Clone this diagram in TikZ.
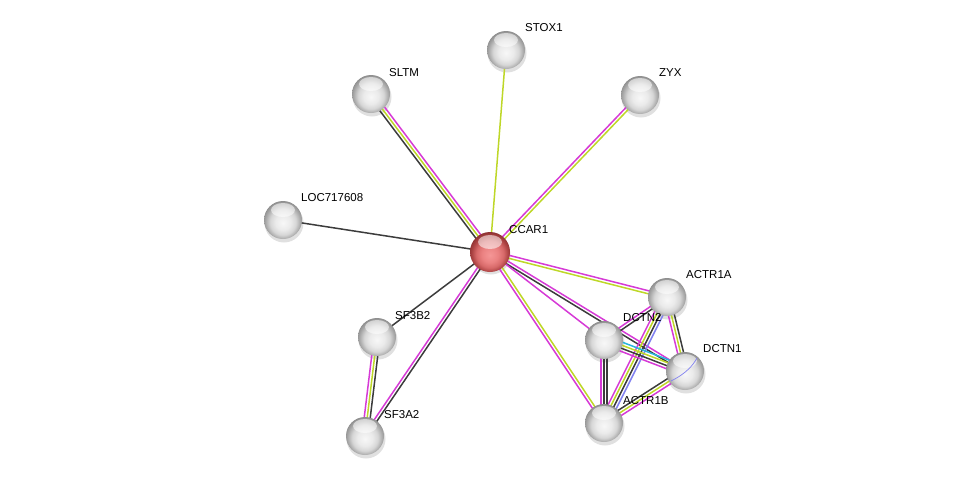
\documentclass[tikz,border=0pt]{standalone}
\usepackage{fontspec}
\setmainfont{Liberation Sans}
\usetikzlibrary{calc,backgrounds}
\definecolor{emag}{RGB}{214,58,214}
\definecolor{eyel}{RGB}{190,215,40}
\definecolor{eblk}{RGB}{60,60,60}
\definecolor{ecyn}{RGB}{40,180,220}
\definecolor{eblu}{RGB}{130,130,240}
\pgfdeclareradialshading{gsphere}{\pgfpoint{0bp}{-4bp}}{%
  color(0bp)=(white!97!black); color(10bp)=(white!92!black);
  color(17bp)=(white!84!black); color(23bp)=(white!66!black);
  color(27bp)=(white!55!black); color(50bp)=(white!55!black)}
\pgfdeclareradialshading{rsphere}{\pgfpoint{0bp}{-4bp}}{%
  color(0bp)=(rgb,255:red,245;green,150;blue,150); color(10bp)=(rgb,255:red,235;green,130;blue,130);
  color(17bp)=(rgb,255:red,215;green,105;blue,105); color(23bp)=(rgb,255:red,170;green,65;blue,65);
  color(27bp)=(rgb,255:red,140;green,50;blue,50); color(50bp)=(rgb,255:red,140;green,50;blue,50)}
\pgfdeclareradialshading{shinegrad}{\pgfpoint{0bp}{0bp}}{%
  color(0bp)=(white); color(15bp)=(white); color(25bp)=(white); color(50bp)=(white)}
\tikzset{
  prot/.style={circle, minimum size=38pt, inner sep=0pt, shading=gsphere},
  hub/.style={circle, minimum size=40pt, inner sep=0pt, shading=rsphere},
  shine/.style={white, opacity=0.55},
  lbl/.style={anchor=west, inner sep=0pt, font=\fontsize{11.5}{13}\selectfont},
  eline/.style={line width=1.5pt}
}
\newcommand\multiedge[3]{%
  \foreach \c [count=\i] in {#3} {\xdef\nnedge{\i}}%
  \foreach \c [count=\i] in {#3} {%
    \pgfmathsetmacro\offedge{(\i-(\nnedge+1)/2)*3}%
    \draw[eline, color=\c] ($(#1)!\offedge pt!90:(#2)$) -- ($(#2)!\offedge pt!-90:(#1)$);
  }%
}
\newcommand\highlight[1]{%
  \fill[shine] ($(#1)+(0,-10)$) ellipse (12pt and 7pt);
}
\begin{document}
\begin{tikzpicture}[x=1pt,y=-1pt]
\useasboundingbox (0,0) rectangle (976,482);
% nodes
\node[prot] (STOX1) at (506,50) {};
\node[prot] (SLTM) at (371,94) {};
\node[prot] (ZYX) at (640,95) {};
\node[prot] (LOC) at (283,220) {};
\node[hub] (CCAR1) at (490,252) {};
\node[prot] (ACTR1A) at (667,297) {};
\node[prot] (DCTN2) at (604,340) {};
\node[prot] (DCTN1) at (685,371) {};
\node[prot] (SF3B2) at (377,337) {};
\node[prot] (SF3A2) at (365,436) {};
\node[prot] (ACTR1B) at (604,423) {};
\foreach \n in {STOX1,SLTM,ZYX,LOC,CCAR1,ACTR1A,DCTN2,DCTN1,SF3B2,SF3A2,ACTR1B} {\highlight{\n}}
% DCTN1 inner blue curve
\draw[eblu, line width=0.7pt] ($(DCTN1)+(-14,10)$) .. controls ($(DCTN1)+(2,2)$) and ($(DCTN1)+(8,-6)$) .. ($(DCTN1)+(12,-13)$);
% edges
\begin{scope}[on background layer]
\foreach \n in {STOX1,SLTM,ZYX,LOC,CCAR1,ACTR1A,DCTN2,DCTN1,SF3B2,SF3A2,ACTR1B} {\fill[black, opacity=0.12] ($(\n)+(1,3)$) circle (19.5pt);}
\multiedge{CCAR1}{STOX1}{eyel}
\multiedge{CCAR1}{SLTM}{emag,eyel,eblk}
\multiedge{CCAR1}{ZYX}{eyel,emag}
\multiedge{CCAR1}{LOC}{eblk}
\multiedge{CCAR1}{SF3B2}{eblk}
\multiedge{CCAR1}{SF3A2}{emag,eblk}
\multiedge{CCAR1}{ACTR1A}{eyel,emag}
\multiedge{CCAR1}{DCTN1}{eblk,emag}
\multiedge{CCAR1}{DCTN2}{emag}
\multiedge{CCAR1}{ACTR1B}{emag,eyel}
\multiedge{SF3B2}{SF3A2}{emag,eyel,eblk}
\multiedge{ACTR1A}{DCTN1}{emag,eyel,eblk}
\multiedge{ACTR1A}{DCTN2}{emag,eblk}
\multiedge{ACTR1A}{ACTR1B}{emag,eyel,eblk,eblu}
\multiedge{DCTN2}{DCTN1}{emag,eblk,eyel,ecyn}
\multiedge{DCTN2}{ACTR1B}{emag,eblk,eblk}
\multiedge{DCTN1}{ACTR1B}{eblk,eyel,emag}
\end{scope}
% labels
\node[lbl] (lSTOX1) at (525,28) {STOX1};
\node[lbl] (lSLTM) at (389,73) {SLTM};
\node[lbl] (lZYX) at (659,73) {ZYX};
\node[lbl] (lLOC) at (301,198) {LOC717608};
\node[lbl] (lCCAR1) at (509,230) {CCAR1};
\node[lbl] (lACTR1A) at (686,275) {ACTR1A};
\node[lbl] (lDCTN2) at (623,318) {DCTN2};
\node[lbl] (lDCTN1) at (703,349) {DCTN1};
\node[lbl] (lSF3B2) at (395,316) {SF3B2};
\node[lbl] (lSF3A2) at (384,415) {SF3A2};
\node[lbl] (lACTR1B) at (623,401) {ACTR1B};
\end{tikzpicture}
\end{document}
